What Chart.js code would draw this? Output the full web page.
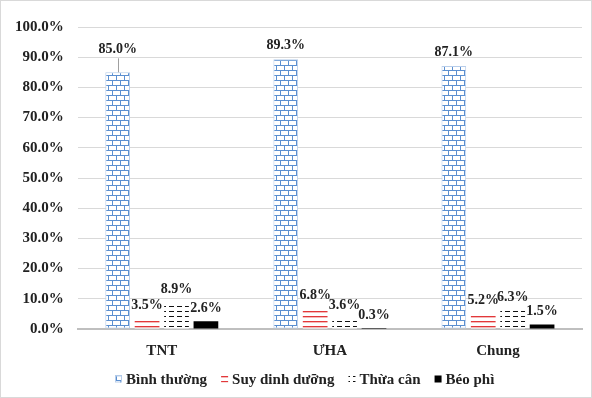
<!DOCTYPE html>
<html>
<head>
<meta charset="utf-8">
<script src="https://cdn.jsdelivr.net/npm/chart.js@4.4.1/dist/chart.umd.min.js"></script>
<style>
  html, body { margin: 0; padding: 0; background: #ffffff; }
  #wrap { width: 592px; height: 398px; }
</style>
</head>
<body>
<div id="wrap"><canvas id="c" width="592" height="398"></canvas></div>
<script>
// Nutritional status by group (percent)
const categories = ['TNT', 'ƯHA', 'Chung'];
const seriesNames = ['Bình thường', 'Suy dinh dưỡng', 'Thừa cân', 'Béo phì'];
const binhThuong = [85.0, 89.3, 87.1];
const suyDinhDuong = [3.5, 6.8, 5.2];
const thuaCan = [8.9, 3.6, 6.3];
const beoPhi = [2.6, 0.3, 1.5];
const yTicks = [0, 10, 20, 30, 40, 50, 60, 70, 80, 90, 100];

const FONT = '"Liberation Serif", "Times New Roman", serif';
const TEXT = '#222222';

// --- fill patterns ---
function makePattern(w, h, draw) {
  const cv = document.createElement('canvas');
  cv.width = w; cv.height = h;
  const g = cv.getContext('2d');
  g.fillStyle = '#ffffff';
  g.fillRect(0, 0, w, h);
  draw(g);
  return g.createPattern(cv, 'repeat');
}
const brick = makePattern(8, 10, g => {
  g.fillStyle = '#5b8fd0';
  g.fillRect(0, 0, 8, 1);
  g.fillRect(0, 5, 8, 1);
  g.fillRect(0, 0, 1, 5);
  g.fillRect(4, 5, 1, 5);
});
const redLines = makePattern(8, 5, g => {
  g.fillStyle = '#e2383a';
  g.fillRect(0, 1, 8, 1);
  g.fillStyle = 'rgba(226,56,58,0.35)';
  g.fillRect(0, 2, 8, 1);
});
const dashes = makePattern(8, 10, g => {
  g.fillStyle = '#111111';
  g.fillRect(1, 1, 5, 1);
  g.fillRect(1, 6, 5, 1);
});

// --- value labels above bars ---
const valueLabels = {
  id: 'valueLabels',
  afterDatasetsDraw(chart, args, opts) {
    const ctx = chart.ctx;
    ctx.save();
    ctx.font = 'bold 14px ' + FONT;
    ctx.fillStyle = TEXT;
    ctx.textAlign = 'center';
    ctx.textBaseline = 'alphabetic';
    chart.data.datasets.forEach((ds, di) => {
      const meta = chart.getDatasetMeta(di);
      meta.data.forEach((bar, i) => {
        const lift = (opts.lift[di] && opts.lift[di][i]) || 0;
        const y = bar.y - 9 - lift;
        if (lift > 8) {
          ctx.strokeStyle = '#a0a0a0';
          ctx.lineWidth = 1;
          ctx.beginPath();
          ctx.moveTo(Math.round(bar.x) + 0.5, bar.y);
          ctx.lineTo(Math.round(bar.x) + 0.5, y + 5);
          ctx.stroke();
        }
        ctx.fillText(ds.data[i].toFixed(1) + '%', bar.x, y);
      });
    });
    ctx.restore();
  }
};

// legend row along the bottom, built from the datasets
const bottomLegend = {
  id: 'bottomLegend',
  afterDraw(chart, args, opts) {
    const ctx = chart.ctx;
    ctx.save();
    ctx.font = 'bold 15px ' + FONT;
    ctx.textBaseline = 'middle';
    ctx.textAlign = 'left';
    const items = chart.data.datasets.map(ds => ({
      text: ds.label, fill: ds.backgroundColor, border: ds.borderColor, bw: ds.borderWidth,
      w: ctx.measureText(ds.label).width
    }));
    const total = items.reduce((s, it) => s + opts.box + opts.gap + it.w, 0) + opts.spacing * (items.length - 1);
    let x = Math.round(opts.centerX - total / 2);
    const y = opts.y;
    items.forEach(it => {
      ctx.fillStyle = it.fill;
      ctx.fillRect(x, y - opts.box / 2, opts.box, opts.box);
      if (it.bw) {
        ctx.strokeStyle = it.border;
        ctx.lineWidth = 1;
        ctx.strokeRect(x + 0.5, y - opts.box / 2 + 0.5, opts.box - 1, opts.box - 1);
      }
      ctx.fillStyle = TEXT;
      ctx.fillText(it.text, x + opts.box + opts.gap, y + 1);
      x += opts.box + opts.gap + it.w + opts.spacing;
    });
    ctx.restore();
  }
};

// white page with a thin frame
const frame = {
  id: 'frame',
  beforeDraw(chart) {
    const ctx = chart.ctx;
    ctx.save();
    ctx.fillStyle = '#ffffff';
    ctx.fillRect(0, 0, chart.width, chart.height);
    ctx.strokeStyle = '#d9d9d9';
    ctx.lineWidth = 1;
    ctx.strokeRect(0.5, 0.5, chart.width - 1, chart.height - 1);
    ctx.restore();
  }
};

const dsCommon = { barPercentage: 0.84, categoryPercentage: 0.7, borderSkipped: false };

new Chart(document.getElementById('c'), {
  type: 'bar',
  data: {
    labels: categories,
    datasets: [
      { label: seriesNames[0], data: binhThuong, backgroundColor: brick, borderColor: '#b7cdea', borderWidth: 1, ...dsCommon },
      { label: seriesNames[1], data: suyDinhDuong, backgroundColor: redLines, borderWidth: 0, ...dsCommon },
      { label: seriesNames[2], data: thuaCan, backgroundColor: dashes, borderWidth: 0, ...dsCommon },
      { label: seriesNames[3], data: beoPhi, backgroundColor: '#000000', borderWidth: 0, ...dsCommon }
    ]
  },
  options: {
    responsive: false,
    animation: false,
    layout: { padding: { left: 1, right: 10, top: 27, bottom: 33 } },
    scales: {
      x: {
        grid: { display: false },
        border: { color: '#bfbfbf', width: 2 },
        ticks: { color: TEXT, font: { family: FONT, size: 15, weight: 'bold' }, padding: 5 }
      },
      y: {
        min: 0, max: 100,
        afterBuildTicks(axis) { axis.ticks = yTicks.map(v => ({ value: v })); },
        grid: { color: '#d9d9d9', drawTicks: false },
        border: { display: false },
        ticks: {
          color: TEXT,
          font: { family: FONT, size: 15, weight: 'bold' },
          padding: 14,
          callback: v => v.toFixed(1) + '%'
        }
      }
    },
    plugins: {
      legend: { display: false },
      tooltip: { enabled: false },
      valueLabels: { lift: { 0: [10, 1, 1] } },
      bottomLegend: { centerX: 305, y: 379, box: 7, gap: 4, spacing: 14 }
    }
  },
  plugins: [frame, valueLabels, bottomLegend]
});
</script>
</body>
</html>
